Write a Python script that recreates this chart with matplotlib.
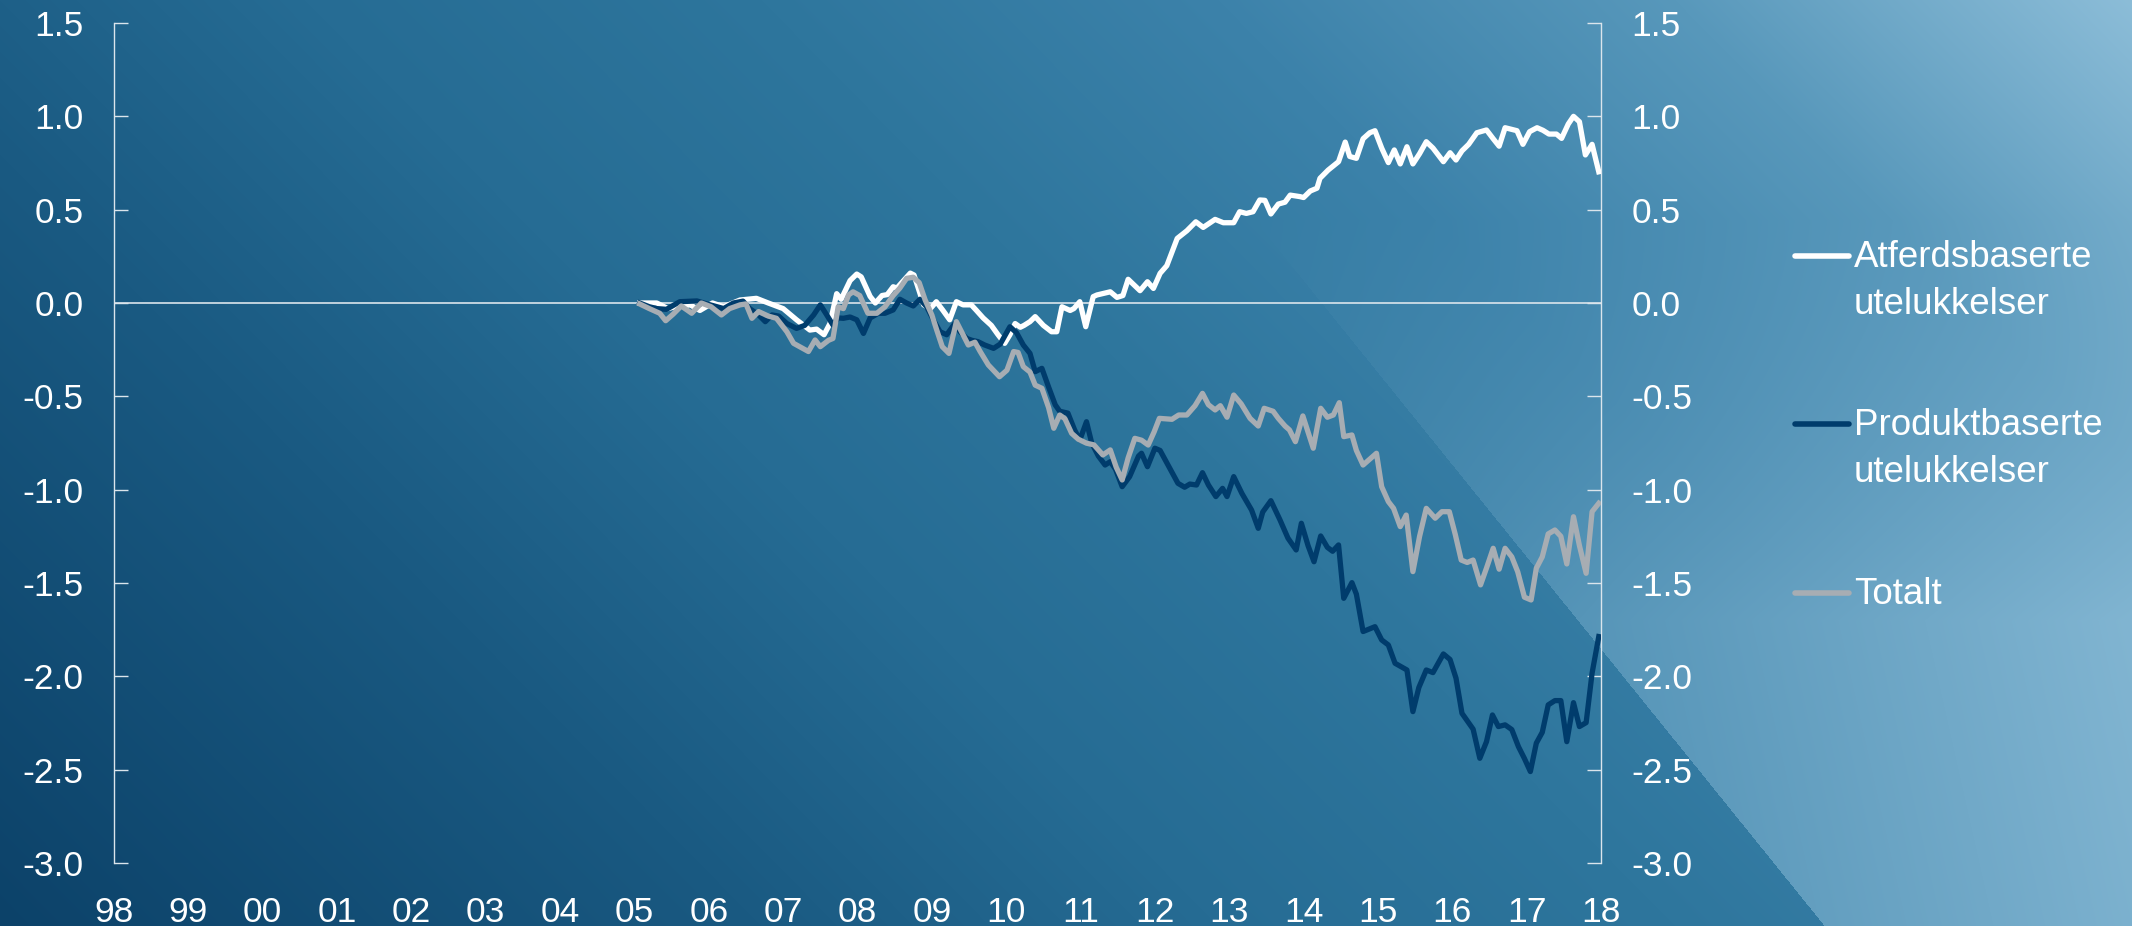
import numpy as np
import matplotlib
matplotlib.use("Agg")
import matplotlib.pyplot as plt
from matplotlib.lines import Line2D

plt.rcParams['font.family'] = ['Liberation Sans', 'DejaVu Sans']

W, H = 2132, 926

# Atferdsbaserte utelukkelser
atf_years = [2005.07, 2005.30, 2005.45, 2005.55, 2005.75, 2005.88, 2006.05, 2006.20, 2006.42, 2006.64,
             2006.80, 2007.00, 2007.18, 2007.36, 2007.45, 2007.55, 2007.63, 2007.72, 2007.78, 2007.90,
             2007.99, 2008.05, 2008.17, 2008.24, 2008.33, 2008.40, 2008.48, 2008.53, 2008.59, 2008.71,
             2008.76, 2008.89, 2008.98, 2009.06, 2009.15, 2009.24, 2009.33, 2009.42, 2009.53, 2009.60,
             2009.69, 2009.80, 2009.89, 2009.98, 2010.05, 2010.12, 2010.19, 2010.24, 2010.32, 2010.39,
             2010.50, 2010.61, 2010.68, 2010.75, 2010.86, 2010.91, 2010.99, 2011.07, 2011.17, 2011.22,
             2011.40, 2011.49, 2011.57, 2011.64, 2011.80, 2011.90, 2011.98, 2012.07, 2012.16, 2012.30,
             2012.43, 2012.55, 2012.65, 2012.81, 2012.92, 2013.06, 2013.14, 2013.23, 2013.32, 2013.41,
             2013.48, 2013.56, 2013.66, 2013.75, 2013.82, 2013.95, 2014.00, 2014.09, 2014.18, 2014.22,
             2014.33, 2014.47, 2014.56, 2014.62, 2014.71, 2014.80, 2014.89, 2014.96, 2015.05, 2015.14,
             2015.22, 2015.30, 2015.39, 2015.47, 2015.56, 2015.65, 2015.74, 2015.88, 2015.97, 2016.05,
             2016.13, 2016.22, 2016.33, 2016.46, 2016.55, 2016.63, 2016.71, 2016.87, 2016.95, 2017.04,
             2017.14, 2017.22, 2017.30, 2017.40, 2017.47, 2017.56, 2017.63, 2017.71, 2017.79, 2017.88,
             2017.97]
atf = [0.00, 0.00, -0.03, -0.02, -0.01, -0.04, 0.00, -0.02, 0.016, 0.025,
       0.00, -0.03, -0.09, -0.145, -0.14, -0.17, -0.11, 0.05, 0.02, 0.12,
       0.155, 0.14, 0.035, 0.00, 0.04, 0.045, 0.087, 0.08, 0.107, 0.16,
       0.15, -0.01, -0.03, 0.007, -0.04, -0.09, 0.007, -0.01, -0.01, -0.04,
       -0.08, -0.12, -0.17, -0.216, -0.17, -0.11, -0.13, -0.12, -0.10, -0.073,
       -0.12, -0.154, -0.154, -0.02, -0.04, -0.03, 0.007, -0.127, 0.034, 0.043,
       0.06, 0.03, 0.04, 0.127, 0.066, 0.114, 0.078, 0.159, 0.20, 0.346,
       0.387, 0.435, 0.405, 0.448, 0.43, 0.43, 0.489, 0.48, 0.489, 0.552,
       0.55, 0.477, 0.53, 0.54, 0.578, 0.57, 0.565, 0.60, 0.615, 0.668,
       0.712, 0.757, 0.862, 0.785, 0.775, 0.88, 0.912, 0.923, 0.83, 0.752,
       0.82, 0.745, 0.837, 0.745, 0.80, 0.864, 0.83, 0.757, 0.805, 0.766,
       0.815, 0.85, 0.912, 0.927, 0.88, 0.84, 0.939, 0.923, 0.85, 0.918,
       0.939, 0.925, 0.905, 0.905, 0.882, 0.959, 1.00, 0.971, 0.793, 0.85,
       0.703]

# Produktbaserte utelukkelser
prod_years = [2005.07, 2005.20, 2005.30, 2005.43, 2005.61, 2005.84, 2006.02, 2006.20, 2006.33, 2006.46,
              2006.55, 2006.67, 2006.76, 2006.85, 2006.94, 2007.05, 2007.18, 2007.29, 2007.41, 2007.50,
              2007.58, 2007.67, 2007.74, 2007.81, 2007.90, 2007.99, 2008.08, 2008.17, 2008.28, 2008.37,
              2008.48, 2008.57, 2008.66, 2008.75, 2008.84, 2008.93, 2009.02, 2009.11, 2009.20, 2009.31,
              2009.38, 2009.47, 2009.54, 2009.62, 2009.71, 2009.83, 2009.92, 2010.05, 2010.14, 2010.23,
              2010.32, 2010.39, 2010.48, 2010.57, 2010.66, 2010.72, 2010.83, 2010.92, 2010.99, 2011.08,
              2011.15, 2011.24, 2011.33, 2011.40, 2011.47, 2011.56, 2011.66, 2011.78, 2011.82, 2011.90,
              2012.00, 2012.07, 2012.20, 2012.31, 2012.40, 2012.47, 2012.56, 2012.64, 2012.72, 2012.82,
              2012.91, 2012.97, 2013.06, 2013.17, 2013.30, 2013.39, 2013.45, 2013.56, 2013.68, 2013.79,
              2013.90, 2013.97, 2014.06, 2014.14, 2014.23, 2014.32, 2014.39, 2014.47, 2014.54, 2014.65,
              2014.71, 2014.80, 2014.96, 2015.05, 2015.14, 2015.23, 2015.39, 2015.47, 2015.55, 2015.65,
              2015.74, 2015.88, 2015.97, 2016.05, 2016.13, 2016.28, 2016.37, 2016.46, 2016.54, 2016.62,
              2016.71, 2016.80, 2016.89, 2016.97, 2017.05, 2017.13, 2017.21, 2017.29, 2017.38, 2017.46,
              2017.54, 2017.63, 2017.71, 2017.80, 2017.88, 2017.97]
prod = [0.00, -0.02, -0.03, -0.034, 0.007, 0.011, -0.01, -0.03, 0.00, 0.01,
        -0.03, -0.064, -0.10, -0.064, -0.07, -0.11, -0.136, -0.12, -0.064, -0.01,
        -0.06, -0.118, -0.08, -0.082, -0.075, -0.09, -0.163, -0.08, -0.055, -0.055,
        -0.037, 0.02, 0.00, -0.016, 0.02, -0.02, -0.09, -0.154, -0.17, -0.109,
        -0.154, -0.19, -0.20, -0.207, -0.225, -0.243, -0.22, -0.127, -0.16, -0.225,
        -0.27, -0.368, -0.35, -0.45, -0.546, -0.58, -0.59, -0.68, -0.734, -0.636,
        -0.75, -0.82, -0.868, -0.85, -0.89, -0.984, -0.93, -0.82, -0.805, -0.877,
        -0.778, -0.79, -0.885, -0.966, -0.987, -0.97, -0.975, -0.909, -0.975, -1.037,
        -0.993, -1.037, -0.93, -1.02, -1.109, -1.207, -1.12, -1.059, -1.16, -1.26,
        -1.323, -1.18, -1.30, -1.386, -1.248, -1.309, -1.33, -1.296, -1.582, -1.498,
        -1.56, -1.76, -1.734, -1.805, -1.832, -1.93, -1.966, -2.189, -2.06, -1.966,
        -1.98, -1.88, -1.91, -2.01, -2.198, -2.283, -2.439, -2.35, -2.207, -2.269,
        -2.26, -2.285, -2.377, -2.44, -2.51, -2.358, -2.30, -2.153, -2.13, -2.13,
        -2.35, -2.141, -2.269, -2.248, -1.983, -1.787]

# Totalt
tot_years = [2005.07, 2005.20, 2005.34, 2005.42, 2005.52, 2005.63, 2005.77, 2005.90, 2006.03, 2006.17,
             2006.28, 2006.42, 2006.50, 2006.58, 2006.67, 2006.80, 2006.91, 2007.05, 2007.14, 2007.34,
             2007.43, 2007.50, 2007.61, 2007.67, 2007.74, 2007.81, 2007.88, 2007.94, 2008.03, 2008.14,
             2008.26, 2008.37, 2008.48, 2008.57, 2008.66, 2008.75, 2008.83, 2008.91, 2009.00, 2009.07,
             2009.14, 2009.23, 2009.33, 2009.42, 2009.49, 2009.58, 2009.65, 2009.76, 2009.91, 2010.01,
             2010.10, 2010.16, 2010.23, 2010.32, 2010.39, 2010.48, 2010.57, 2010.64, 2010.72, 2010.79,
             2010.88, 2010.97, 2011.08, 2011.18, 2011.30, 2011.40, 2011.48, 2011.56, 2011.64, 2011.73,
             2011.82, 2011.91, 2011.99, 2012.06, 2012.23, 2012.32, 2012.43, 2012.54, 2012.64, 2012.72,
             2012.81, 2012.88, 2012.97, 2013.06, 2013.16, 2013.28, 2013.39, 2013.47, 2013.59, 2013.66,
             2013.75, 2013.81, 2013.89, 2013.99, 2014.13, 2014.23, 2014.32, 2014.40, 2014.48, 2014.54,
             2014.65, 2014.71, 2014.80, 2014.98, 2015.05, 2015.14, 2015.21, 2015.30, 2015.38, 2015.47,
             2015.56, 2015.65, 2015.77, 2015.86, 2015.96, 2016.04, 2016.12, 2016.20, 2016.28, 2016.38,
             2016.46, 2016.55, 2016.63, 2016.71, 2016.80, 2016.88, 2016.97, 2017.06, 2017.13, 2017.21,
             2017.29, 2017.38, 2017.46, 2017.54, 2017.63, 2017.71, 2017.80, 2017.88, 2017.97]
tot = [-0.005, -0.03, -0.055, -0.095, -0.06, -0.016, -0.055, 0.00, -0.02, -0.064,
       -0.03, -0.01, -0.005, -0.082, -0.046, -0.07, -0.082, -0.154, -0.216, -0.26,
       -0.198, -0.234, -0.20, -0.19, -0.02, -0.03, 0.043, 0.06, 0.04, -0.055,
       -0.055, -0.02, 0.04, 0.08, 0.132, 0.138, 0.109, 0.016, -0.064, -0.15,
       -0.234, -0.27, -0.10, -0.17, -0.225, -0.21, -0.26, -0.332, -0.395, -0.36,
       -0.26, -0.265, -0.341, -0.37, -0.44, -0.457, -0.56, -0.671, -0.60, -0.62,
       -0.698, -0.73, -0.751, -0.76, -0.814, -0.787, -0.88, -0.948, -0.83, -0.725,
       -0.735, -0.761, -0.69, -0.618, -0.623, -0.60, -0.60, -0.55, -0.484, -0.545,
       -0.573, -0.55, -0.612, -0.493, -0.54, -0.618, -0.659, -0.564, -0.58, -0.618,
       -0.659, -0.68, -0.743, -0.605, -0.778, -0.564, -0.612, -0.60, -0.534, -0.716,
       -0.707, -0.79, -0.868, -0.805, -0.984, -1.064, -1.10, -1.198, -1.136, -1.439,
       -1.25, -1.10, -1.153, -1.118, -1.118, -1.24, -1.377, -1.39, -1.377, -1.51,
       -1.42, -1.314, -1.426, -1.314, -1.36, -1.44, -1.576, -1.591, -1.421, -1.36,
       -1.237, -1.216, -1.25, -1.398, -1.145, -1.30, -1.448, -1.118, -1.073]

y_ticks = [-3.0, -2.5, -2.0, -1.5, -1.0, -0.5, 0.0, 0.5, 1.0, 1.5]
x_ticks = list(range(1998, 2019))
x_labels = [f"{y % 100:02d}" for y in x_ticks]

series = [
    ("Atferdsbaserte\nutelukkelser", atf_years, atf, "#ffffff"),
    ("Produktbaserte\nutelukkelser", prod_years, prod, "#003c6c"),
    ("Totalt", tot_years, tot, "#a7adb3"),
]

fig = plt.figure(figsize=(W / 100, H / 100), dpi=100)

# background: blue gradient, lighter towards top right, plus a lighter wedge
# bottom right that fades out towards the top
yy, xx = np.mgrid[0:H, 0:W]
t = 0.7 * xx / W + 0.3 * (1 - yy / H)
stops_t = [0.0, 0.25, 0.4, 0.55, 0.7, 0.85, 1.0]
stops_c = np.array([[12, 66, 105], [26, 90, 130], [38, 108, 148], [46, 118, 157],
                    [60, 130, 170], [88, 152, 187], [140, 189, 216]]) / 255
img = np.stack([np.interp(t, stops_t, stops_c[:, k]) for k in range(3)], axis=-1)
edge = 1077 + yy * 465 / 576
v = np.clip(0.8 * (xx - 1300) / 832 + 0.2 * (1 - yy / H), 0, 1)
A = np.array([59, 129, 168]) / 255
B = np.array([140, 189, 216]) / 255
wedge = A + v[..., None] * (B - A)
fade = np.clip((yy - 220) / 400, 0, 1)[..., None]
mix = img + fade * np.clip(wedge - img, 0, None)
mask = xx > edge
img[mask] = mix[mask]

bg = fig.add_axes([0, 0, 1, 1], zorder=-1)
bg.imshow(img, aspect="auto", extent=[0, 1, 0, 1], origin="upper")
bg.axis("off")

ax = fig.add_axes([114 / W, 63 / H, (1601 - 114) / W, (863 - 23) / H])
ax.set_facecolor("none")

ax.axhline(0, color="#dbe5ec", lw=1.2, zorder=1)
for label, xs, ys, col in series:
    ax.plot(xs, ys, color=col, lw=3.8, solid_joinstyle="round", zorder=3)

ax.set_xlim(1998, 2018)
ax.set_ylim(-3.0, 1.5)
ax.set_yticks(y_ticks)
ax.set_yticklabels([f"{v:.1f}" for v in y_ticks])
ax.set_xticks(x_ticks)
ax.set_xticklabels(x_labels)

ax.tick_params(axis="y", direction="in", length=10, width=1, color="#dbe5ec",
               labelsize=25.5, labelcolor="white", pad=22,
               left=True, right=True, labelleft=True, labelright=True)
ax.tick_params(axis="x", length=0, pad=24, labelsize=25.5, labelcolor="white")

for s in ["top", "bottom"]:
    ax.spines[s].set_visible(False)
for s in ["left", "right"]:
    ax.spines[s].set_color("#dbe5ec")
    ax.spines[s].set_linewidth(1)

# legend on the right
leg_y = [256, 424, 593]
for (label, xs, ys, col), yp in zip(series, leg_y):
    fig.add_artist(Line2D([1795 / W, 1849 / W], [1 - yp / H] * 2,
                          transform=fig.transFigure, color=col, lw=4.0,
                          solid_capstyle="round"))
    fig.text(1854 / W, 1 - (yp - 16) / H, label, color="white", fontsize=26.5,
             va="top", ha="left", linespacing=1.45)

fig.savefig("out.png", dpi=100)
